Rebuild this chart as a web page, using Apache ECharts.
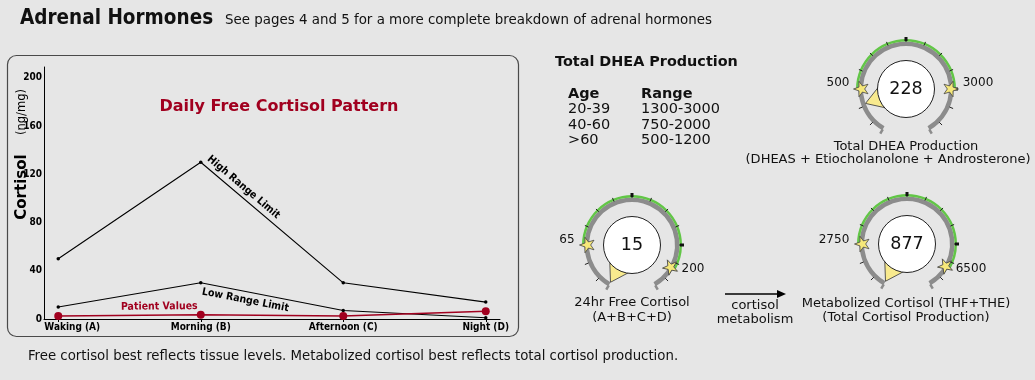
<!DOCTYPE html>
<html><head><meta charset="utf-8">
<script src="https://cdn.jsdelivr.net/npm/echarts@6/dist/echarts.min.js"></script>
<style>html,body{margin:0;padding:0;background:#e6e6e6}#c{width:1035px;height:380px}</style>
</head><body><div id="c"></div>
<script>
// ---- data ----
const categories = ['Waking (A)', 'Morning (B)', 'Afternoon (C)', 'Night (D)'];
const highRange = [50, 130, 30, 14];
const lowRange = [10, 30, 7, 1];
const patientValues = [2.5, 3.5, 2.5, 6.5];
const yTicks = [0, 40, 80, 120, 160, 200];
const lineNames = ['High Range Limit', 'Low Range Limit', 'Patient Values'];
const dheaAges = ['20-39', '40-60', '>60'];
const dheaRanges = ['1300-3000', '750-2000', '500-1200'];
const gaugeNames = ['Total DHEA Production', '24hr Free Cortisol', 'Metabolized Cortisol (THF+THE)'];
const gaugeSubs = ['(DHEAS + Etiocholanolone + Androsterone)', '(A+B+C+D)', '(Total Cortisol Production)'];
const gaugeValues = [228, 15, 877];
const gaugeLows = [500, 65, 2750];
const gaugeHighs = [3000, 200, 6500];

// ---- layout / style ----
const COND = "'DejaVu Sans Condensed','DejaVu Sans',sans-serif";
const SANS = "'DejaVu Sans',sans-serif";
const RED = '#a1001f';
const START = 240, END = -60, LOW_ANGLE = 180;
const gaugeCenters = [[906, 89], [632, 245], [907, 244]];
const gaugeHighAngles = [0, -30, -30];
const labelOffsets = [[[-68, -6], [72, -6]], [[-65, -5], [61, 24]], [[-73, -4], [64, 25]]];
const nameXY = [[906, 147], [632, 303], [906, 304]];
const subXY = [[888, 160], [632, 318], [906, 318]];
const starPath = 'path://M50,2 L61.8,35.5 L97.6,35.5 L68.8,56.9 L79.4,91 L50,70.4 L20.6,91 L31.2,56.9 L2.4,35.5 L38.2,35.5 Z';
const catIdx = categories.map((c, i) => i);

const chart = echarts.init(document.getElementById('c'));

const gaugeSeries = [];
gaugeValues.forEach((v, i) => {
  const lo = gaugeLows[i], hi = gaugeHighs[i];
  const dpu = (LOW_ANGLE - gaugeHighAngles[i]) / (hi - lo);
  const min = lo - (START - LOW_ANGLE) / dpu;
  const max = hi + (gaugeHighAngles[i] - END) / dpu;
  const c = gaugeCenters[i];
  const base = () => ({
    type: 'gauge', center: c, startAngle: START, endAngle: END, min: min, max: max, splitNumber: 1,
    axisLine: { show: false, lineStyle: { width: 1 } },
    axisTick: { show: false }, axisLabel: { show: false }, splitLine: { show: false },
    pointer: { show: false }, anchor: { show: false }, title: { show: false }, detail: { show: false },
    silent: true, animation: false, data: []
  });
  // gray arc with end hooks
  gaugeSeries.push(Object.assign(base(), {
    radius: 47.5,
    axisLine: { show: true, lineStyle: { width: 4.5, color: [[1, '#8c8c8c']] } },
    splitLine: { show: true, distance: -3.5, length: -5, lineStyle: { color: '#8c8c8c', width: 2.5 } }
  }));
  // green normal band
  const fl = (lo - min) / (max - min), fh = (hi - min) / (max - min);
  gaugeSeries.push(Object.assign(base(), {
    radius: 50,
    axisLine: { show: true, lineStyle: { width: 2.5, color: [[fl, 'rgba(0,0,0,0)'], [fh, '#62c647'], [1, 'rgba(0,0,0,0)']] } }
  }));
  // minor ticks
  gaugeSeries.push(Object.assign(base(), {
    radius: 51, startAngle: 225, endAngle: -45, min: 0, max: 12, splitNumber: 12,
    splitLine: { show: true, distance: -1, length: 4, lineStyle: { color: '#222', width: 1 } }
  }));
  // major ticks
  gaugeSeries.push(Object.assign(base(), {
    radius: 52, startAngle: 90, endAngle: 0, min: 0, max: 1, splitNumber: 1,
    splitLine: { show: true, distance: -1, length: 4, lineStyle: { color: '#111', width: 3 } }
  }));
  // reference stars + labels
  gaugeSeries.push(Object.assign(base(), {
    radius: 47,
    pointer: { show: true, icon: starPath, length: 15.5, width: 15.5, offsetCenter: [0, -37.5], keepAspect: true },
    itemStyle: { color: '#f6e87a', borderColor: '#444', borderWidth: 0.8 },
    detail: { show: true, fontSize: 12, fontWeight: 'normal', color: '#111', fontFamily: SANS, formatter: '{value}' },
    data: [{ value: lo, detail: { offsetCenter: labelOffsets[i][0] } }, { value: hi, detail: { offsetCenter: labelOffsets[i][1] } }]
  }));
  // patient pointer + circle
  gaugeSeries.push(Object.assign(base(), {
    radius: 47,
    pointer: { show: true, icon: 'triangle', length: 24, width: 30, offsetCenter: [0, -19], keepAspect: false },
    itemStyle: { color: '#f8ea8e', borderColor: '#444', borderWidth: 0.8 },
    anchor: { show: true, showAbove: true, icon: 'circle', size: 57, itemStyle: { color: '#fff', borderColor: '#222', borderWidth: 1 } },
    data: [{ value: v }]
  }));
  // value text
  gaugeSeries.push(Object.assign(base(), {
    radius: 47, z: 5,
    detail: { show: true, offsetCenter: [0, 0], fontSize: 17.5, fontWeight: 'normal', color: '#111', fontFamily: SANS, formatter: '{value}' },
    data: [{ value: v }]
  }));
});

const mlBase = (text, pos, color, from, to, arr) => ({
  silent: true, animation: false, symbol: ['none', 'none'],
  lineStyle: { color: 'rgba(0,0,0,0)', width: 1 },
  label: { show: true, position: pos, formatter: text, fontFamily: COND, fontWeight: 'bold', fontSize: 10.5, color: color, distance: 3 },
  data: [[{ coord: [from, arr[from]] }, { coord: [to, arr[to]] }]]
});

const graphics = [
  { type: 'rect', shape: { x: 7.5, y: 55.5, width: 511, height: 281, r: 9 }, style: { fill: 'none', stroke: '#4a4a4a', lineWidth: 1.2 }, z: -1 },
  { type: 'text', x: 20, y: 19, style: { text: 'Adrenal Hormones', font: "bold 20.5px " + COND, fill: '#111', verticalAlign: 'middle' } },
  { type: 'text', x: 225, y: 20, style: { text: 'See pages 4 and 5 for a more complete breakdown of adrenal hormones', font: "14.9px " + COND, fill: '#111', verticalAlign: 'middle' } },
  { type: 'text', x: 28, y: 356, style: { text: 'Free cortisol best reflects tissue levels. Metabolized cortisol best reflects total cortisol production.', font: "14.8px " + COND, fill: '#111', verticalAlign: 'middle' } },
  { type: 'text', x: 22, y: 187, rotation: Math.PI / 2, style: { text: 'Cortisol', font: "bold 15px " + SANS, fill: '#000', align: 'center', verticalAlign: 'middle' } },
  { type: 'text', x: 22, y: 112, rotation: Math.PI / 2, style: { text: '(ng/mg)', font: "11.5px " + SANS, fill: '#000', align: 'center', verticalAlign: 'middle' } },
  { type: 'text', x: 555, y: 62, style: { text: 'Total DHEA Production', font: "bold 14.4px " + SANS, fill: '#111', verticalAlign: 'middle' } },
  { type: 'text', x: 568, y: 94, style: { text: 'Age', font: "bold 14.5px " + SANS, fill: '#111', verticalAlign: 'middle' } },
  { type: 'text', x: 641, y: 94, style: { text: 'Range', font: "bold 14.5px " + SANS, fill: '#111', verticalAlign: 'middle' } },
  { type: 'line', shape: { x1: 725, y1: 294, x2: 779, y2: 294 }, style: { stroke: '#000', lineWidth: 1.3 } },
  { type: 'polygon', shape: { points: [[777, 290], [786, 294], [777, 298]] }, style: { fill: '#000' } },
  { type: 'text', x: 755, y: 306, style: { text: 'cortisol', font: "13px " + SANS, fill: '#111', align: 'center', verticalAlign: 'middle' } },
  { type: 'text', x: 755, y: 320, style: { text: 'metabolism', font: "13px " + SANS, fill: '#111', align: 'center', verticalAlign: 'middle' } }
];
dheaAges.forEach((a, i) => {
  graphics.push({ type: 'text', x: 568, y: 109.5 + i * 15.5, style: { text: a, font: "14.5px " + SANS, fill: '#111', verticalAlign: 'middle' } });
  graphics.push({ type: 'text', x: 641, y: 109.5 + i * 15.5, style: { text: dheaRanges[i], font: "14.5px " + SANS, fill: '#111', verticalAlign: 'middle' } });
});
gaugeNames.forEach((n, i) => {
  graphics.push({ type: 'text', x: nameXY[i][0], y: nameXY[i][1], style: { text: n, font: "13px " + SANS, fill: '#111', align: 'center', verticalAlign: 'middle' } });
  graphics.push({ type: 'text', x: subXY[i][0], y: subXY[i][1], style: { text: gaugeSubs[i], font: "13px " + SANS, fill: '#111', align: 'center', verticalAlign: 'middle' } });
});

const option = {
  backgroundColor: '#e6e6e6',
  animation: false,
  title: { text: 'Daily Free Cortisol Pattern', left: 274, top: 94, textAlign: 'center',
    textStyle: { fontSize: 16, fontWeight: 'bold', color: RED, fontFamily: SANS } },
  grid: { left: 44, right: 535, top: 67, bottom: 61 },
  xAxis: {
    type: 'value', min: -0.1, max: 3.1,
    axisLine: { onZero: false, lineStyle: { color: '#000', width: 1 } },
    axisTick: { show: true, length: 3, customValues: catIdx, lineStyle: { color: '#000' } },
    axisLabel: {
      customValues: catIdx,
      formatter: v => { const i = Math.round(v); return i === 0 ? '{first|' + categories[i] + '}' : categories[i]; },
      rich: { first: { padding: [0, 0, 0, 28], fontFamily: COND, fontWeight: 'bold', fontSize: 10, color: '#000' } },
      fontFamily: COND, fontWeight: 'bold', fontSize: 10, color: '#000', margin: 3
    },
    splitLine: { show: false }
  },
  yAxis: {
    type: 'value', min: 0, max: 209,
    axisLine: { show: true, onZero: false, lineStyle: { color: '#000', width: 1 } },
    axisTick: { show: false },
    axisLabel: { customValues: yTicks, fontFamily: COND, fontWeight: 'bold', fontSize: 10, color: '#000', margin: 2 },
    splitLine: { show: false }
  },
  series: [
    { type: 'line', name: lineNames[0], data: catIdx.map(i => [i, highRange[i]]), symbol: 'circle', symbolSize: 3.5,
      itemStyle: { color: '#000' }, lineStyle: { color: '#000', width: 1.1 }, silent: true,
      markLine: mlBase(lineNames[0], 'insideStartTop', '#000', 1, 2, highRange) },
    { type: 'line', name: lineNames[1], data: catIdx.map(i => [i, lowRange[i]]), symbol: 'circle', symbolSize: 3.5,
      itemStyle: { color: '#000' }, lineStyle: { color: '#000', width: 1.1 }, silent: true,
      markLine: mlBase(lineNames[1], 'insideStartBottom', '#000', 1, 2, lowRange) },
    { type: 'line', name: lineNames[2], data: catIdx.map(i => [i, patientValues[i]]), symbol: 'circle', symbolSize: 8,
      itemStyle: { color: RED }, lineStyle: { color: RED, width: 1.5 }, silent: true,
      markLine: mlBase(lineNames[2], 'insideEndTop', RED, 0, 1, patientValues) }
  ].concat(gaugeSeries),
  graphic: graphics
};
chart.setOption(option);
</script>
</body></html>
